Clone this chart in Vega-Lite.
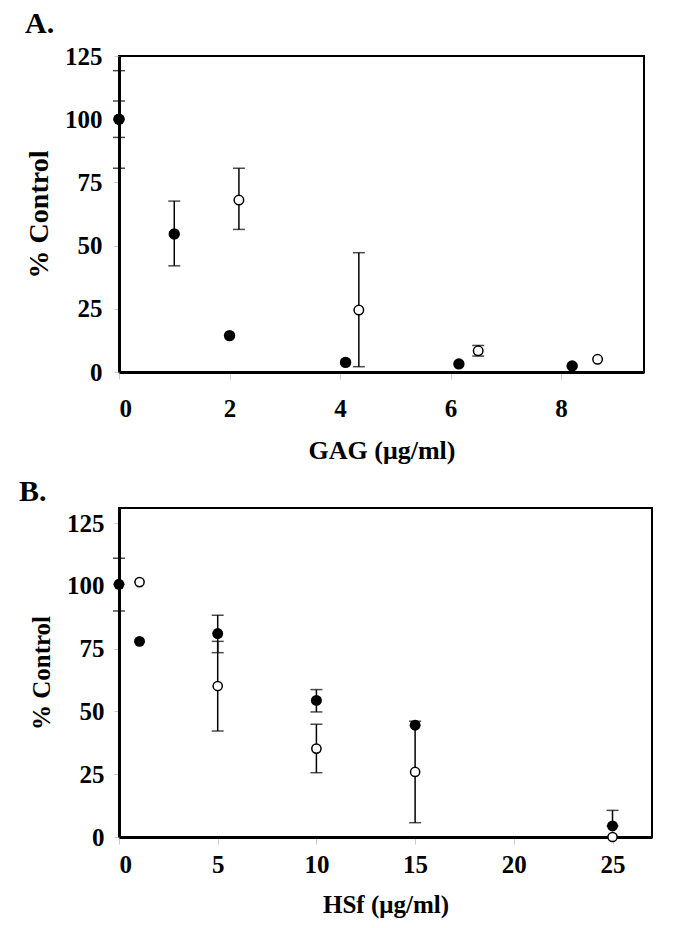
{
  "$schema": "https://vega.github.io/schema/vega-lite/v6.json",
  "background": "white",
  "padding": {"top": 8, "left": 18, "right": 5, "bottom": 5},
  "spacing": 12,
  "columns": 1,
  "align": "none",
  "config": {
    "font": "Liberation Serif",
    "view": {"stroke": "black", "strokeWidth": 2},
    "axis": {
      "grid": false,
      "domainColor": "black",
      "domainWidth": 3,
      "labelFont": "Liberation Serif",
      "labelFontWeight": "bold",
      "labelFontSize": 25,
      "labelColor": "black",
      "titleFont": "Liberation Serif",
      "titleFontWeight": "bold",
      "titleFontSize": 25,
      "titleColor": "black",
      "tickColor": "#cccccc",
      "tickWidth": 1
    },
    "title": {"font": "Liberation Serif", "fontWeight": "bold", "fontSize": 30, "color": "black", "anchor": "start", "frame": "group"}
  },
  "datasets": {
    "ptsA": [
      {"s": "open", "x": 0, "y": 100},
      {"s": "open", "x": 2.17, "y": 68},
      {"s": "open", "x": 4.34, "y": 24.5},
      {"s": "open", "x": 6.5, "y": 8.4},
      {"s": "open", "x": 8.66, "y": 5.0},
      {"s": "filled", "x": 0, "y": 100},
      {"s": "filled", "x": 1.0, "y": 54.6},
      {"s": "filled", "x": 2.0, "y": 14.4},
      {"s": "filled", "x": 4.1, "y": 3.8},
      {"s": "filled", "x": 6.15, "y": 3.2},
      {"s": "filled", "x": 8.2, "y": 2.4}
    ],
    "errA": [
      {"s": "open", "x": 0, "lo": 80.6, "hi": 119.2},
      {"s": "open", "x": 2.17, "lo": 56.4, "hi": 80.6},
      {"s": "open", "x": 4.34, "lo": 2.1, "hi": 47.2},
      {"s": "open", "x": 6.5, "lo": 6.3, "hi": 10.5},
      {"s": "filled", "x": 0, "lo": 92.8, "hi": 107.2},
      {"s": "filled", "x": 1.0, "lo": 42.0, "hi": 67.6}
    ],
    "ptsB": [
      {"s": "filled", "x": 0, "y": 100.6},
      {"s": "filled", "x": 1.04, "y": 77.9},
      {"s": "filled", "x": 5, "y": 81},
      {"s": "filled", "x": 10, "y": 54.4},
      {"s": "filled", "x": 15, "y": 44.5},
      {"s": "filled", "x": 25, "y": 4.4},
      {"s": "open", "x": 1.04, "y": 101.5},
      {"s": "open", "x": 5, "y": 60.1},
      {"s": "open", "x": 10, "y": 35.2},
      {"s": "open", "x": 15, "y": 25.9},
      {"s": "open", "x": 25, "y": 0}
    ],
    "errB": [
      {"s": "filled", "x": 0, "lo": 90, "hi": 111},
      {"s": "filled", "x": 5, "lo": 73.4, "hi": 88.3},
      {"s": "filled", "x": 10, "lo": 49.8, "hi": 58.7},
      {"s": "filled", "x": 25, "lo": 4.4, "hi": 10.6},
      {"s": "open", "x": 5, "lo": 42.2, "hi": 77.9},
      {"s": "open", "x": 10, "lo": 25.6, "hi": 44.9},
      {"s": "open", "x": 15, "lo": 5.7, "hi": 46.1}
    ]
  },
  "concat": [
    {
      "width": 525,
      "height": 316,
      "title": {"text": "A.", "dx": -94, "offset": 5},
      "layer": [
        {
          "data": {"name": "errA"},
          "mark": {"type": "rule", "color": "black", "strokeWidth": 1.5},
          "encoding": {
            "x": {"field": "x", "type": "quantitative", "scale": {"domain": [0, 9.5], "nice": false},
              "axis": {"values": [0, 2, 4, 6, 8], "format": "d", "title": "GAG (μg/ml)", "titleFontSize": 26, "tickSize": 7, "labelPadding": 17, "titlePadding": 16}},
            "y": {"field": "lo", "type": "quantitative", "scale": {"domain": [0, 125], "nice": false},
              "axis": {"values": [0, 25, 50, 75, 100, 125], "title": "% Control", "titleFontSize": 28, "tickSize": 5, "labelPadding": 12, "titlePadding": 11}},
            "y2": {"field": "hi"}
          }
        },
        {
          "data": {"name": "errA"},
          "mark": {"type": "tick", "orient": "horizontal", "size": 12, "thickness": 1.5, "color": "black"},
          "encoding": {
            "x": {"field": "x", "type": "quantitative"},
            "y": {"field": "lo", "type": "quantitative"}
          }
        },
        {
          "data": {"name": "errA"},
          "mark": {"type": "tick", "orient": "horizontal", "size": 12, "thickness": 1.5, "color": "black"},
          "encoding": {
            "x": {"field": "x", "type": "quantitative"},
            "y": {"field": "hi", "type": "quantitative"}
          }
        },
        {
          "data": {"name": "ptsA"},
          "transform": [{"filter": "datum.s == 'open'"}],
          "mark": {"type": "point", "shape": "circle", "filled": true, "fill": "white", "stroke": "black", "strokeWidth": 1.5, "size": 90, "opacity": 1},
          "encoding": {
            "x": {"field": "x", "type": "quantitative"},
            "y": {"field": "y", "type": "quantitative"}
          }
        },
        {
          "data": {"name": "ptsA"},
          "transform": [{"filter": "datum.s == 'filled'"}],
          "mark": {"type": "point", "shape": "circle", "filled": true, "color": "black", "size": 130, "opacity": 1},
          "encoding": {
            "x": {"field": "x", "type": "quantitative"},
            "y": {"field": "y", "type": "quantitative"}
          }
        }
      ]
    },
    {
      "width": 533,
      "height": 329,
      "title": {"text": "B.", "dx": -100, "offset": 1},
      "layer": [
        {
          "data": {"name": "errB"},
          "mark": {"type": "rule", "color": "black", "strokeWidth": 1.5},
          "encoding": {
            "x": {"field": "x", "type": "quantitative", "scale": {"domain": [0, 27], "nice": false},
              "axis": {"values": [0, 5, 10, 15, 20, 25], "format": "d", "title": "HSf (μg/ml)", "tickSize": 7, "labelPadding": 8, "titlePadding": 15}},
            "y": {"field": "lo", "type": "quantitative", "scale": {"domain": [0, 131], "nice": false},
              "axis": {"values": [0, 25, 50, 75, 100, 125], "title": "% Control", "titleFontSize": 25, "tickSize": 5, "labelPadding": 10, "titlePadding": 12}},
            "y2": {"field": "hi"}
          }
        },
        {
          "data": {"name": "errB"},
          "mark": {"type": "tick", "orient": "horizontal", "size": 12, "thickness": 1.5, "color": "black"},
          "encoding": {
            "x": {"field": "x", "type": "quantitative"},
            "y": {"field": "lo", "type": "quantitative"}
          }
        },
        {
          "data": {"name": "errB"},
          "mark": {"type": "tick", "orient": "horizontal", "size": 12, "thickness": 1.5, "color": "black"},
          "encoding": {
            "x": {"field": "x", "type": "quantitative"},
            "y": {"field": "hi", "type": "quantitative"}
          }
        },
        {
          "data": {"name": "ptsB"},
          "transform": [{"filter": "datum.s == 'filled'"}],
          "mark": {"type": "point", "shape": "circle", "filled": true, "color": "black", "size": 120, "opacity": 1},
          "encoding": {
            "x": {"field": "x", "type": "quantitative"},
            "y": {"field": "y", "type": "quantitative"}
          }
        },
        {
          "data": {"name": "ptsB"},
          "transform": [{"filter": "datum.s == 'open'"}],
          "mark": {"type": "point", "shape": "circle", "filled": true, "fill": "white", "stroke": "black", "strokeWidth": 1.5, "size": 85, "opacity": 1},
          "encoding": {
            "x": {"field": "x", "type": "quantitative"},
            "y": {"field": "y", "type": "quantitative"}
          }
        }
      ]
    }
  ]
}
